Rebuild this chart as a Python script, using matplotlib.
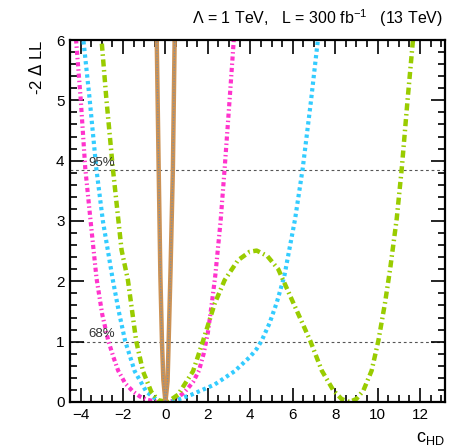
import matplotlib
matplotlib.use("Agg")
import matplotlib.pyplot as plt
from matplotlib.ticker import MultipleLocator

plt.rcParams['font.family'] = ['Liberation Sans', 'DejaVu Sans']

# -2 Delta LL scans in c_HD, one per fit configuration
x_pink = [-4.26, -4.0, -3.78, -3.53, -3.25, -2.98, -2.7, -2.45, -2.23, -1.9, -1.52,
          -1.2, -0.89, -0.5, 0.0, 0.4, 0.92, 1.3, 1.58, 1.8, 2.0, 2.18, 2.35,
          2.6, 2.79, 3.03, 3.26]
y_pink = [6.2, 5.04, 3.87, 3.0, 2.05, 1.45, 1.02, 0.74, 0.52, 0.31, 0.17,
          0.09, 0.04, 0.01, 0.0, 0.02, 0.17, 0.33, 0.52, 0.8, 1.15, 1.62, 2.1,
          3.0, 3.87, 5.04, 6.2]

x_cyan = [-3.93, -3.58, -3.26, -2.95, -2.48, -2.2, -1.9, -1.45, -0.9, -0.35,
          0.1, 0.43, 1.22, 2.32, 3.26, 3.99, 4.3, 4.54, 4.9, 5.24, 5.6, 6.11,
          6.47, 6.86, 7.25]
y_cyan = [6.2, 5.04, 3.87, 3.0, 2.02, 1.5, 1.01, 0.51, 0.17, 0.02,
          0.0, 0.02, 0.12, 0.29, 0.51, 0.75, 0.88, 1.02, 1.3, 1.64, 2.08, 3.03,
          3.87, 4.99, 6.2]

x_green = [-3.06, -2.79, -2.48, -2.21, -2.07, -1.77, -1.38, -1.06, -0.67, -0.35,
           0.1, 0.59, 1.3, 1.77, 2.32, 2.79, 3.42, 3.97, 4.3, 4.8, 5.32, 6.03,
           6.82, 7.37, 7.92, 8.3, 8.68, 9.0, 9.33, 9.72, 10.04, 10.35, 10.59,
           10.9, 11.14, 11.41, 11.72]
y_green = [6.2, 5.04, 3.87, 2.98, 2.52, 2.02, 1.01, 0.51, 0.17, 0.03,
           0.0, 0.12, 0.51, 1.01, 1.63, 2.02, 2.35, 2.49, 2.51, 2.42, 2.2, 1.64,
           1.02, 0.52, 0.19, 0.05, 0.0, 0.05, 0.19, 0.52, 1.02, 1.64, 2.2,
           3.03, 3.87, 4.99, 6.2]

x_brown = [-0.42, -0.32, -0.24, -0.165, -0.1, 0.0, 0.1, 0.15, 0.24, 0.35, 0.44]
y_brown = [6.2, 3.87, 2.1, 1.0, 0.37, 0.0, 0.35, 1.0, 2.2, 3.87, 6.2]

cl_levels = [1.0, 3.84]
cl_names = ['68%', '95%']

fig = plt.figure(figsize=(4.57, 4.48), dpi=100)
ax = fig.add_axes([0.1532, 0.1027, 0.8206, 0.808])

for lev, name in zip(cl_levels, cl_names):
    ax.axhline(lev, color='#555555', lw=0.8, ls=(0, (2.5, 2.5)), zorder=1)
    ax.text(-3.65, lev + 0.03, name, fontsize=9.5, color='#333333',
            ha='left', va='bottom')

ax.plot(x_pink, y_pink, color='#FF33CC', lw=3.0, ls=(0, (1.0, 0.7, 0.35, 0.7)))
ax.plot(x_cyan, y_cyan, color='#33CCFF', lw=3.0, ls=(0, (0.8, 0.8)))
ax.plot(x_green, y_green, color='#99CC00', lw=3.2, ls=(0, (1.6, 0.8, 0.35, 0.8)))
ax.plot(x_brown, y_brown, color='#CC9255', lw=3.2, solid_capstyle='butt')
ax.plot(x_brown, y_brown, color='#7090B0', lw=0.8, ls=(0, (1, 1.5)))

ax.set_xlim(-4.5, 13.18)
ax.set_ylim(0, 6)
ax.xaxis.set_major_locator(MultipleLocator(2))
ax.xaxis.set_minor_locator(MultipleLocator(0.5))
ax.yaxis.set_major_locator(MultipleLocator(1))
ax.yaxis.set_minor_locator(MultipleLocator(0.2))
ax.tick_params(which='both', direction='in', top=True, right=True,
               labelsize=11, width=1.2, pad=4)
ax.tick_params(which='major', length=10)
ax.tick_params(which='minor', length=5)
for sp in ax.spines.values():
    sp.set_linewidth(1.6)

ax.set_ylabel('-2 $\\Delta$ LL', fontsize=12, loc='top', labelpad=8)
ax.set_xlabel('c$_{\\mathregular{HD}}$', fontsize=13, loc='right', labelpad=6)

fig.text(0.97, 0.935, 'Λ = 1 TeV,   L = 300 fb$^{\\mathregular{-1}}$   (13 TeV)',
         fontsize=11.5, ha='right', va='bottom')

fig.savefig('out.png', dpi=100)
